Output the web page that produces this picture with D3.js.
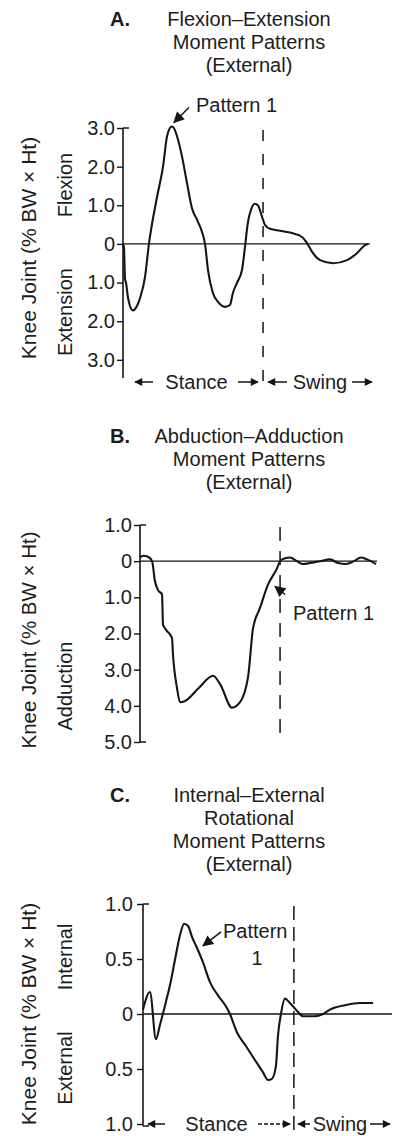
<!DOCTYPE html>
<html><head><meta charset="utf-8">
<script src="https://cdn.jsdelivr.net/npm/d3@7"></script>
<style>
html,body{margin:0;padding:0;background:#fff;}
svg{display:block;}
text{font-family:"Liberation Sans",Arial,Helvetica,sans-serif;fill:#1c1c1c;}
</style></head><body>
<svg id="chart" width="399" height="1136"></svg>
<script>
// Knee joint external moments over the gait cycle (x = % of gait cycle, y = % BW x Ht)

// A. Flexion (+) / extension (-)
const flexExtPct = [0,0.4,0.8,1.2,2.0,2.8,4.0,5.7,6.9,8.9,10.5,13.8,16.2,17.8,19.0,19.8,20.6,21.9,23.9,25.9,27.9,30.0,32.0,33.2,34.4,36.4,38.5,41.3,43.3,44.5,46.2,48.2,49.4,50.6,51.8,53.4,54.7,56.3,57.5,59.5,63.6,68.4,72.5,74.5,76.5,79.8,85.0,90.7,94.7,98.0,99.2];
const flexExtMoment = [0,-0.1,-0.9,-1.0,-1.38,-1.6,-1.72,-1.6,-1.4,-0.86,0,1.22,2.0,2.78,3.0,3.04,3.0,2.78,2.26,1.58,0.93,0.62,0.31,0,-0.67,-1.27,-1.5,-1.63,-1.58,-1.27,-1.0,-0.67,-0.07,0.57,0.88,1.04,0.99,0.70,0.49,0.39,0.34,0.28,0.18,0.02,-0.2,-0.42,-0.5,-0.42,-0.24,-0.03,0];
const flexExtTicks = [3,2,1,0,-1,-2,-3];
const flexExtTickLabels = ["3.0","2.0","1.0","0","1.0","2.0","3.0"];
const flexExtToeOff = 56.7;

// B. Abduction (+) / adduction (-)
const abdAddPct = [0,1.3,3.4,5.1,6.3,7.6,9.3,9.7,11.0,13.5,13.9,15.6,16.9,18.6,24.9,30.8,33.8,38.8,42.2,45.6,47.7,50.6,54.0,57.8,59.1,61.2,63.3,66.2,68.8,71.7,75.9,80.2,83.5,86.9,90.3,93.2,95.8,99.6];
const abdAddMoment = [0.1,0.15,0.12,0,-0.55,-0.8,-0.92,-1.75,-1.9,-2.12,-2.56,-3.5,-3.9,-3.88,-3.5,-3.17,-3.4,-4.05,-3.9,-3.2,-1.85,-1.3,-0.65,-0.2,0,0.08,0.1,0,-0.08,-0.05,0,0.05,-0.05,-0.08,0,0.1,0.05,-0.08];
const abdAddTicks = [1,0,-1,-2,-3,-4,-5];
const abdAddTickLabels = ["1.0","0","1.0","2.0","3.0","4.0","5.0"];
const abdAddToeOff = 59.1;

// C. Internal (+) / external (-) rotation
const rotPct = [0,2.8,5.2,6.8,9.2,11.2,12.9,14.9,16.5,18.1,19.7,21.7,24.1,26.9,30.1,33.3,34.9,37.8,41.0,45.0,48.2,50.2,51.8,53.4,54.2,55.4,57.0,59.0,61.8,64.3,69.1,72.3,75.1,81.1,87.1,92.4];
const rotMoment = [0.04,0.2,-0.23,-0.1,0.11,0.3,0.5,0.72,0.82,0.8,0.7,0.6,0.47,0.29,0.17,0.07,0,-0.17,-0.28,-0.42,-0.53,-0.6,-0.59,-0.47,-0.2,0,0.14,0.1,0.03,-0.02,-0.02,0,0.04,0.08,0.1,0.1];
const rotTicks = [1,0.5,0,-0.5,-1];
const rotTickLabels = ["1.0","0.5","0","0.5","1.0"];
const rotToeOff = 60.6;

const svg = d3.select("#chart");
const INK = "#151515";

const defs = svg.append("defs");
defs.append("marker").attr("id","head")
  .attr("viewBox","0 0 10 10").attr("refX",9).attr("refY",5)
  .attr("markerWidth",9).attr("markerHeight",8).attr("markerUnits","userSpaceOnUse")
  .attr("orient","auto")
  .append("path").attr("d","M0,0 L10,5 L0,10 z").attr("fill",INK);
defs.append("marker").attr("id","bighead")
  .attr("viewBox","0 0 10 10").attr("refX",9).attr("refY",5)
  .attr("markerWidth",12).attr("markerHeight",11).attr("markerUnits","userSpaceOnUse")
  .attr("orient","auto")
  .append("path").attr("d","M0,0 L10,5 L0,10 z").attr("fill",INK);

function title(letter, lines, y0, cx) {
  svg.append("text").attr("x",110).attr("y",y0).attr("font-size",20).attr("font-weight","bold").text(letter);
  lines.forEach((t,i) => {
    svg.append("text").attr("x",cx).attr("y",y0 + i*23).attr("text-anchor","middle")
      .attr("font-size",20).text(t);
  });
}

function vlabel(x, y, t, size) {
  svg.append("text").attr("transform",`translate(${x},${y}) rotate(-90)`)
    .attr("text-anchor","middle").attr("dy","0.35em").attr("font-size",size).text(t);
}

function panel(p) {
  const x = d3.scaleLinear().domain([0,100]).range([p.x0, p.x1]);
  const y = d3.scaleLinear().domain(p.yDomain).range([p.yBottom, p.yTop]);
  const g = svg.append("g");

  // y axis ticks and labels
  const ax = g.append("g").attr("transform",`translate(${p.x0},0)`)
    .call(d3.axisLeft(y).tickValues(p.ticks).tickFormat((d,i) => p.tickLabels[i])
      .tickSize(6).tickPadding(p.pad));
  ax.select(".domain").remove();
  ax.selectAll(".tick line").attr("stroke",INK).attr("stroke-width",1.4);
  ax.selectAll(".tick text").attr("font-size",20).attr("fill","#1c1c1c")
    .attr("font-family","'Liberation Sans',Arial,sans-serif");

  // axis spine with end caps
  g.append("line").attr("x1",p.x0).attr("x2",p.x0).attr("y1",y(p.yDomain[1])).attr("y2",p.spineBottom)
    .attr("stroke",INK).attr("stroke-width",1.6);
  g.append("line").attr("x1",p.x0).attr("x2",p.x0+6).attr("y1",y(p.yDomain[1])).attr("y2",y(p.yDomain[1]))
    .attr("stroke",INK).attr("stroke-width",1.5);
  if (p.bottomCap) {
    g.append("line").attr("x1",p.x0).attr("x2",p.x0+6).attr("y1",p.spineBottom).attr("y2",p.spineBottom)
      .attr("stroke",INK).attr("stroke-width",1.5);
  }

  // zero baseline
  g.append("line").attr("x1",p.x0).attr("x2",p.x1).attr("y1",y(0)).attr("y2",y(0))
    .attr("stroke",INK).attr("stroke-width",1.4);

  // toe-off (stance / swing boundary)
  g.append("line").attr("x1",x(p.toeOff)).attr("x2",x(p.toeOff))
    .attr("y1",p.dashTop).attr("y2",p.dashBottom)
    .attr("stroke",INK).attr("stroke-width",1.5).attr("stroke-dasharray",p.dash);

  // moment curve
  const pts = p.pct.map((d,i) => [d, p.values[i]]);
  g.append("path").datum(pts)
    .attr("d", d3.line().x(d => x(d[0])).y(d => y(d[1])).curve(d3.curveMonotoneX))
    .attr("fill","none").attr("stroke",INK).attr("stroke-width",2.1).attr("stroke-linejoin","round");

  return {x, y};
}

function arrow(x1, y1, x2, y2, marker, dash) {
  const l = svg.append("line").attr("x1",x1).attr("y1",y1).attr("x2",x2).attr("y2",y2)
    .attr("stroke",INK).attr("stroke-width",1.5).attr("marker-end",`url(#${marker})`);
  if (dash) l.attr("stroke-dasharray",dash);
}

// stance / swing phase row beneath a panel: each arrow is [tail, head]
function phaseRow(r) {
  svg.append("text").attr("x",r.stance).attr("y",r.y+7).attr("text-anchor","middle").attr("font-size",20).text("Stance");
  arrow(r.sl[0], r.y, r.sl[1], r.y, "head");
  arrow(r.sr[0], r.y, r.sr[1], r.y, "head", r.dash);
  svg.append("text").attr("x",r.swing).attr("y",r.y+7).attr("text-anchor","middle").attr("font-size",20).text("Swing");
  arrow(r.wl[0], r.y, r.wl[1], r.y, "head");
  arrow(r.wr[0], r.y, r.wr[1], r.y, "head");
}

// ---- A ----
title("A.", ["Flexion\u2013Extension","Moment Patterns","(External)"], 26, 249);
const A = panel({x0:123, x1:370, yDomain:[-3.47,3.0], yBottom:378, yTop:128, spineBottom:378,
  ticks:flexExtTicks, tickLabels:flexExtTickLabels, pad:2, pct:flexExtPct, values:flexExtMoment,
  toeOff:flexExtToeOff, dashTop:130, dashBottom:392, dash:"11,13", bottomCap:false});
vlabel(29, 248, "Knee Joint (% BW \u00d7 Ht)", 21);
vlabel(65, 185, "Flexion", 20);
vlabel(65, 312, "Extension", 20);
phaseRow({y:382, stance:196.5, sl:[153,135], sr:[238,258], swing:320, wl:[287,268], wr:[352,372]});
{
  const i = flexExtMoment.indexOf(d3.max(flexExtMoment));
  const tx = A.x(flexExtPct[i]) + 2, ty = A.y(flexExtMoment[i]) - 4;
  arrow(tx+15, ty-15, tx, ty, "bighead");
  svg.append("text").attr("x",196).attr("y",112).attr("font-size",20).text("Pattern 1");
}

// ---- B ----
title("B.", ["Abduction\u2013Adduction","Moment Patterns","(External)"], 443, 249);
const B = panel({x0:140, x1:377, yDomain:[-5,1], yBottom:742, yTop:525, spineBottom:742,
  ticks:abdAddTicks, tickLabels:abdAddTickLabels, pad:2, pct:abdAddPct, values:abdAddMoment,
  toeOff:abdAddToeOff, dashTop:527, dashBottom:742, dash:"14,10", bottomCap:true});
vlabel(29, 640, "Knee Joint (% BW \u00d7 Ht)", 20.5);
vlabel(65, 686, "Adduction", 20);
{
  const tx = B.x(57.0), ty = B.y(-0.7);
  arrow(tx+10, ty+8, tx, ty, "bighead");
  svg.append("text").attr("x",293).attr("y",620).attr("font-size",20).text("Pattern 1");
}

// ---- C ----
title("C.", ["Internal\u2013External","Rotational","Moment Patterns","(External)"], 802, 249);
const C = panel({x0:143, x1:392, yDomain:[-1,1], yBottom:1124, yTop:904, spineBottom:1126,
  ticks:rotTicks, tickLabels:rotTickLabels, pad:4, pct:rotPct, values:rotMoment,
  toeOff:rotToeOff, dashTop:906, dashBottom:1130, dash:"14,7", bottomCap:true});
vlabel(29, 1014, "Knee Joint (% BW \u00d7 Ht)", 21);
vlabel(65, 957, "Internal", 20);
vlabel(65, 1068, "External", 20);
phaseRow({y:1124, stance:216.5, sl:[165,148], sr:[258,290], dash:"4,2", swing:340, wl:[310,298], wr:[370,390]});
{
  const tx = C.x(24.1), ty = C.y(0.62);
  arrow(tx+18, ty-14, tx, ty, "bighead");
  svg.append("text").attr("x",223).attr("y",938).attr("font-size",20).text("Pattern");
  svg.append("text").attr("x",257).attr("y",965).attr("text-anchor","middle").attr("font-size",20).text("1");
}
</script>
</body></html>
